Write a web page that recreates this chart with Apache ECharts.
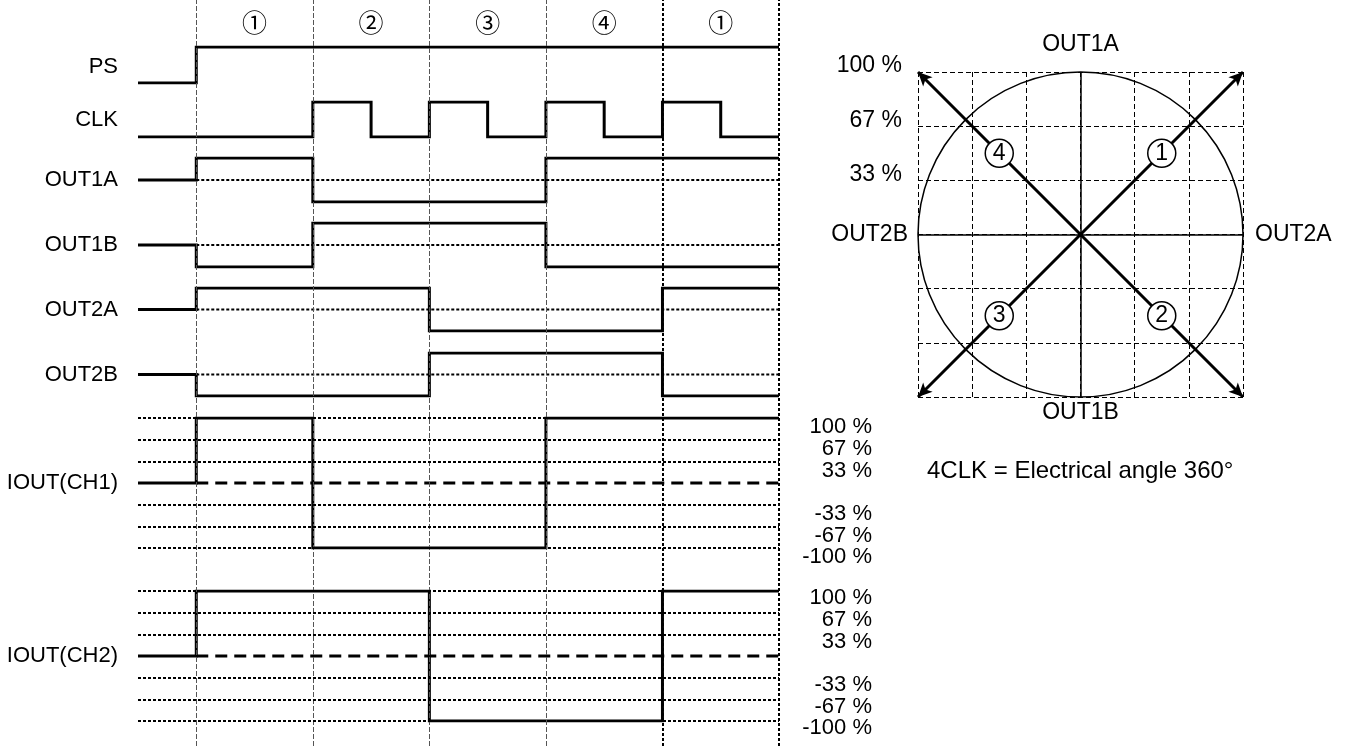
<!DOCTYPE html>
<html><head><meta charset="utf-8">
<script src="https://cdn.jsdelivr.net/npm/echarts@6/dist/echarts.min.js"></script>
<style>html,body{margin:0;padding:0;background:#fff}#c{width:1357px;height:746px}</style>
</head><body><div id="c"></div>
<script>
// ---------- data ----------
const PHASES = ['①','②','③','④','①'];
const PHASE_T = [0.5, 1.5, 2.5, 3.5, 4.5];
const STEP_T = [-0.5, 0, 1, 2, 3, 4, 5];
const PS = [0, 1, 1, 1, 1, 1, 1];
const CLK_T = [-0.5, 1, 1.5, 2, 2.5, 3, 3.5, 4, 4.5, 5];
const CLK = [0, 1, 0, 1, 0, 1, 0, 1, 0, 0];
const OUT1A = [0, 1, -1, -1, 1, 1, 1];
const OUT1B = [0, -1, 1, 1, -1, -1, -1];
const OUT2A = [0, 1, 1, -1, -1, 1, 1];
const OUT2B = [0, -1, -1, 1, 1, -1, -1];
const IOUT_CH1 = [0, 100, -100, -100, 100, 100, 100];
const IOUT_CH2 = [0, 100, 100, -100, -100, 100, 100];
const LEVELS = [100, 67, 33, -33, -67, -100];
const ROW_NAMES = ['PS','CLK','OUT1A','OUT1B','OUT2A','OUT2B','IOUT(CH1)','IOUT(CH2)'];
const GRAY_T = [0, 1, 2, 3];
const BLACK_T = [4, 5];
const REF_START = 0, REF_END = 5;
// phasor (units of 33 %)
const PH_RING = [3, 2, 1];
const PH_RING_LABELS = ['100 %', '67 %', '33 %'];
const PH_NAMES = ['OUT1A', 'OUT1B', 'OUT2A', 'OUT2B'];
const PH_NAME_AT = [[0, 3], [0, -3], [3, 0], [-3, 0]];
const PH_VECTORS = [[3, 3], [3, -3], [-3, -3], [-3, 3]];
const PH_STEPS = [[1.5, 1.5], [1.5, -1.5], [-1.5, -1.5], [-1.5, 1.5]];
const PH_STEP_LABELS = ['1', '2', '3', '4'];
const NOTE = '4CLK = Electrical angle 360°';

// ---------- layout / style ----------
const FONT = '"Liberation Sans", Arial, Helvetica, sans-serif';
const FS = 22;
const FS_PH = 23;
const X0 = 138, XW = 641;
const SOLID = {opacity: 1};
const rows = [
  {top: 47,  h: 36,  min: 0,    max: 1,   mid: 0.45, t: STEP_T, v: PS},
  {top: 102, h: 35,  min: 0,    max: 1,   mid: 0.5,  t: CLK_T,  v: CLK},
  {top: 158, h: 44,  min: -1,   max: 1,   mid: 0,    t: STEP_T, v: OUT1A, ref: true},
  {top: 223, h: 44,  min: -1,   max: 1,   mid: 0,    t: STEP_T, v: OUT1B, ref: true},
  {top: 288, h: 43,  min: -1,   max: 1,   mid: 0,    t: STEP_T, v: OUT2A, ref: true},
  {top: 353, h: 43,  min: -1,   max: 1,   mid: 0,    t: STEP_T, v: OUT2B, ref: true},
  {top: 418, h: 130, min: -100, max: 100, mid: 0,    t: STEP_T, v: IOUT_CH1, levels: true, dy: 9},
  {top: 591, h: 130, min: -100, max: 100, mid: 0,    t: STEP_T, v: IOUT_CH2, levels: true, dy: 7}
];

const grid = [], xAxis = [], yAxis = [], series = [];
const hiddenX = (gi) => ({type: 'value', gridIndex: gi, min: -0.5, max: 5, show: false});
const blank = {axisLine: {show: false}, axisTick: {show: false}, splitLine: {show: false}};

// grid 0 : vertical phase lines over full height
grid.push({left: X0, width: XW, top: 0, height: 746});
xAxis.push(hiddenX(0));
yAxis.push({type: 'value', gridIndex: 0, min: 0, max: 1, show: false});
series.push({
  type: 'scatter', xAxisIndex: 0, yAxisIndex: 0, data: [], silent: true, z: 1,
  markLine: {silent: true, symbol: 'none', label: {show: false}, animation: false,
    lineStyle: {color: '#555', width: 1, type: [5, 2]},
    data: GRAY_T.map(t => ({xAxis: t}))}
});
series.push({
  type: 'scatter', xAxisIndex: 0, yAxisIndex: 0, data: [], silent: true, z: 1,
  markLine: {silent: true, symbol: 'none', label: {show: false}, animation: false,
    lineStyle: {color: '#000', width: 2, type: [3, 2]},
    data: BLACK_T.map(t => ({xAxis: t}))}
});

// grid 1 : phase numbers
grid.push({left: X0, width: XW, top: 10, height: 24});
xAxis.push(hiddenX(1));
yAxis.push({type: 'value', gridIndex: 1, min: -1, max: 1, show: false});
series.push({
  type: 'scatter', xAxisIndex: 1, yAxisIndex: 1, symbolSize: 0, silent: true, itemStyle: SOLID,
  data: PHASE_T.map(t => [t, 0]),
  label: {show: true, position: 'inside', color: '#000', fontSize: 25, textBorderWidth: 0,
    fontFamily: '"Noto Sans CJK JP", sans-serif',
    formatter: p => PHASES[p.dataIndex]}
});

// signal rows
rows.forEach((r, i) => {
  const gi = grid.length;
  grid.push({left: X0, width: XW, top: r.top, height: r.h});
  xAxis.push(hiddenX(gi));
  const yi = yAxis.length;
  yAxis.push(Object.assign({
    type: 'value', gridIndex: gi, min: r.min, max: r.max, position: 'left',
    axisLabel: {customValues: [r.mid], formatter: () => ROW_NAMES[i], margin: 20,
      color: '#000', fontSize: FS, fontFamily: FONT}
  }, blank));
  if (r.levels) {
    series.push({
      type: 'line', xAxisIndex: gi, yAxisIndex: yi, symbol: 'none', silent: true, z: 2,
      data: [[REF_START, 0], [REF_END, 0]],
      lineStyle: {color: '#000', width: 3, type: [12, 7]},
      markLine: {silent: true, symbol: 'none', label: {show: false}, animation: false,
        lineStyle: {color: '#000', width: 2, type: [3, 2]},
        data: LEVELS.map(v => ({yAxis: v}))}
    });
    // percent labels at the right end of the level lines
    series.push({
      type: 'scatter', xAxisIndex: gi, yAxisIndex: yi, symbolSize: 0, silent: true, z: 5, itemStyle: SOLID,
      data: LEVELS.map(v => [REF_END, v]),
      labelLayout: {hideOverlap: false},
      label: {show: true, position: [93, r.dy], align: 'right', verticalAlign: 'middle',
        color: '#000', textBorderWidth: 0, fontSize: FS, fontFamily: FONT,
        formatter: p => LEVELS[p.dataIndex] + ' %'}
    });
  }
  if (r.ref) {
    series.push({
      type: 'line', xAxisIndex: gi, yAxisIndex: yi, symbol: 'none', silent: true, z: 2,
      data: [[REF_START, 0], [REF_END, 0]],
      lineStyle: {color: '#000', width: 2, type: [3, 2]}
    });
  }
  series.push({
    type: 'line', xAxisIndex: gi, yAxisIndex: yi, step: 'end', symbol: 'none', silent: true, z: 3,
    data: r.t.map((t, k) => [t, r.v[k]]),
    lineStyle: {color: '#000', width: 3, join: 'miter', cap: 'butt'}
  });
});

// phasor grid
const pg = grid.length;
grid.push({left: 918, top: 72, width: 325, height: 325});
const dashed = {show: true, lineStyle: {color: '#000', width: 1, type: [5, 3]}};
xAxis.push({type: 'value', gridIndex: pg, min: -3, max: 3, interval: 1,
  axisLine: {show: false, onZero: false}, axisTick: {show: false}, axisLabel: {show: false}, splitLine: dashed});
const pyi = yAxis.length;
yAxis.push({type: 'value', gridIndex: pg, min: -3, max: 3, interval: 1, position: 'left',
  axisLine: {show: false, onZero: false}, axisTick: {show: false}, splitLine: dashed,
  axisLabel: {customValues: PH_RING, formatter: v => PH_RING_LABELS[PH_RING.indexOf(v)],
    margin: 16, verticalAlign: 'bottom', lineHeight: 12, showMinLabel: true, showMaxLabel: true,
    color: '#000', fontSize: FS_PH, fontFamily: FONT}});
series.push({
  type: 'scatter', xAxisIndex: pg, yAxisIndex: pyi, data: [[0, 0]], symbolSize: 0, silent: true, z: 3,
  markLine: {silent: true, symbol: 'none', label: {show: false}, animation: false,
    lineStyle: {color: '#000', width: 1.5, type: 'solid'},
    data: [{xAxis: 0}, {yAxis: 0}]}
});
series.push({
  type: 'scatter', xAxisIndex: pg, yAxisIndex: pyi, data: [[0, 0]], symbolSize: 0, silent: true, z: 4,
  markLine: {silent: true, symbol: ['none', 'arrow'], symbolSize: [10, 14], label: {show: false}, animation: false,
    lineStyle: {color: '#000', width: 3, type: 'solid'},
    data: PH_VECTORS.map(p => [{coord: [0, 0]}, {coord: p}])}
});
series.push({
  type: 'scatter', xAxisIndex: pg, yAxisIndex: pyi, silent: true, z: 6,
  data: PH_STEPS, symbol: 'circle', symbolSize: 28,
  itemStyle: {color: '#fff', borderColor: '#000', borderWidth: 1.5, opacity: 1},
  label: {show: true, position: 'inside', color: '#000', textBorderWidth: 0, fontSize: 23, fontFamily: FONT,
    formatter: p => PH_STEP_LABELS[p.dataIndex]}
});
const namePos = ['top', 'bottom', 'right', 'left'];
const nameDist = [16, 4, 12, 10];
series.push({
  type: 'scatter', xAxisIndex: pg, yAxisIndex: pyi, silent: true, z: 6, symbolSize: 0, itemStyle: SOLID,
  data: PH_NAME_AT.map((p, k) => ({value: p, label: {position: namePos[k], distance: nameDist[k]}})),
  label: {show: true, color: '#000', textBorderWidth: 0, fontSize: FS_PH, fontFamily: FONT,
    formatter: p => PH_NAMES[p.dataIndex]}
});

const chart = echarts.init(document.getElementById('c'), null, {renderer: 'canvas'});
chart.setOption({
  animation: false,
  backgroundColor: '#fff',
  title: {text: NOTE, left: 922, top: 454, textStyle: {color: '#000', fontSize: 24, fontWeight: 'normal', fontFamily: FONT}},
  grid, xAxis, yAxis,
  polar: {center: [1080.5, 234.5], radius: 162.5},
  angleAxis: {min: 0, max: 360, axisLine: {show: true, lineStyle: {color: '#000', width: 1.5}},
    axisTick: {show: false}, axisLabel: {show: false}, splitLine: {show: false}},
  radiusAxis: {min: 0, max: 1, show: false},
  series: series.concat([{type: 'scatter', coordinateSystem: 'polar', data: [], silent: true}])
});
</script>
</body></html>
